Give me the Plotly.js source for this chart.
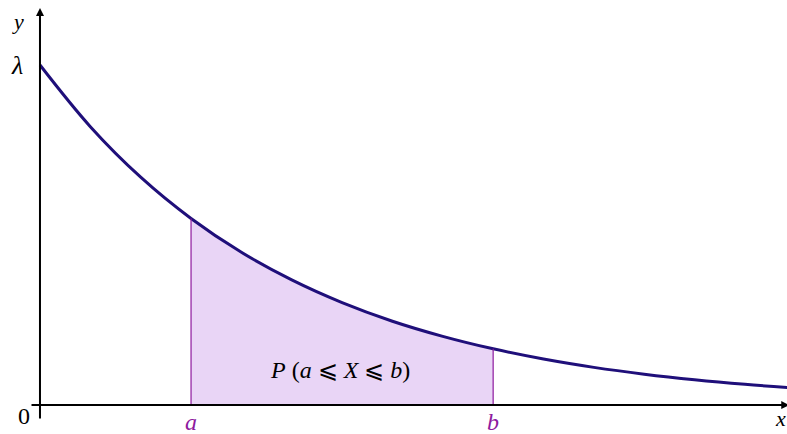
<!DOCTYPE html>
<html>
<head>
<meta charset="utf-8">
<script src="https://cdn.plot.ly/plotly-3.0.1.min.js"></script>
<style>
  html, body { margin: 0; padding: 0; background: #ffffff; }
  #chart { width: 787px; height: 434px; }
</style>
</head>
<body>
<div id="chart"></div>
<script>
// Density of an exponential law, sampled along the x axis
const xs = [0, 0.5, 1, 1.5, 2, 2.5, 3, 3.5, 4, 4.5, 5, 5.5, 6, 6.5, 7, 7.5];
const ys = [0.400, 0.3275, 0.2681, 0.2195, 0.1797, 0.1472, 0.1205, 0.0986,
            0.0808, 0.0661, 0.0541, 0.0443, 0.0363, 0.0297, 0.0243, 0.0199];

// Bounds of the interval [a, b]
const boundA = 1.5;
const boundB = 4.5;
const lambdaValue = 0.400;

// Points of the curve lying inside [a, b]
const inX = [], inY = [];
xs.forEach((x, i) => { if (x >= boundA && x <= boundB) { inX.push(x); inY.push(ys[i]); } });
const fa = ys[xs.indexOf(boundA)];
const fb = ys[xs.indexOf(boundB)];

const serif = "Liberation Serif";
const curveColor = "#1f0f7a";
const purple = "#8e1a9e";

const traces = [
  {
    x: inX, y: inY, type: "scatter", mode: "lines",
    line: { width: 0, shape: "spline" },
    fill: "tozeroy", fillcolor: "#e9d5f6",
    hoverinfo: "skip", showlegend: false
  },
  {
    x: xs, y: ys, type: "scatter", mode: "lines",
    line: { color: curveColor, width: 3, shape: "spline" },
    hoverinfo: "skip", showlegend: false
  }
];

const layout = {
  width: 787, height: 434,
  margin: { l: 0, r: 0, t: 0, b: 0 },
  paper_bgcolor: "#ffffff", plot_bgcolor: "#ffffff",
  showlegend: false,
  font: { family: serif },
  xaxis: { range: [-0.397, 7.418], visible: false, fixedrange: true },
  yaxis: { range: [-0.0341, 0.4765], visible: false, fixedrange: true },
  shapes: [
    { type: "line", x0: boundA, x1: boundA, y0: 0, y1: fa, line: { color: purple, width: 1.2 } },
    { type: "line", x0: boundB, x1: boundB, y0: 0, y1: fb, line: { color: purple, width: 1.2 } }
  ],
  annotations: [
    // axes with arrow heads
    { x: 7.44, y: 0, ax: -0.099, ay: 0, axref: "x", ayref: "y", xref: "x", yref: "y",
      text: "", showarrow: true, arrowhead: 2, arrowsize: 0.8, arrowwidth: 2, arrowcolor: "#000" },
    { x: 0, y: 0.467, ax: 0, ay: -0.0176, axref: "x", ayref: "y", xref: "x", yref: "y",
      text: "", showarrow: true, arrowhead: 2, arrowsize: 0.8, arrowwidth: 2, arrowcolor: "#000" },
    // axis labels
    { x: -0.22, y: 0.451, xref: "x", yref: "y", text: "<i>y</i>", showarrow: false,
      font: { family: serif, size: 22, color: "#000" } },
    { x: 7.35, y: -0.016, xref: "x", yref: "y", text: "<i>x</i>", showarrow: false,
      font: { family: serif, size: 22, color: "#000" } },
    { x: -0.16, y: -0.013, xref: "x", yref: "y", text: "0", showarrow: false,
      font: { family: serif, size: 24, color: "#000" } },
    { x: -0.23, y: lambdaValue, xref: "x", yref: "y", text: "<i>λ</i>", showarrow: false,
      font: { family: serif, size: 26, color: "#000" } },
    // bounds
    { x: boundA, y: -0.0195, xref: "x", yref: "y", text: "<i>a</i>", showarrow: false,
      font: { family: serif, size: 24, color: purple } },
    { x: boundB, y: -0.0195, xref: "x", yref: "y", text: "<i>b</i>", showarrow: false,
      font: { family: serif, size: 24, color: purple } },
    // area label
    { x: 2.98, y: 0.041, xref: "x", yref: "y",
      text: "<i>P</i> (<i>a</i> ⩽ <i>X</i> ⩽ <i>b</i>)", showarrow: false,
      font: { family: serif, size: 24, color: "#000" } }
  ]
};

Plotly.newPlot("chart", traces, layout, { displayModeBar: false, staticPlot: true });
</script>
</body>
</html>
